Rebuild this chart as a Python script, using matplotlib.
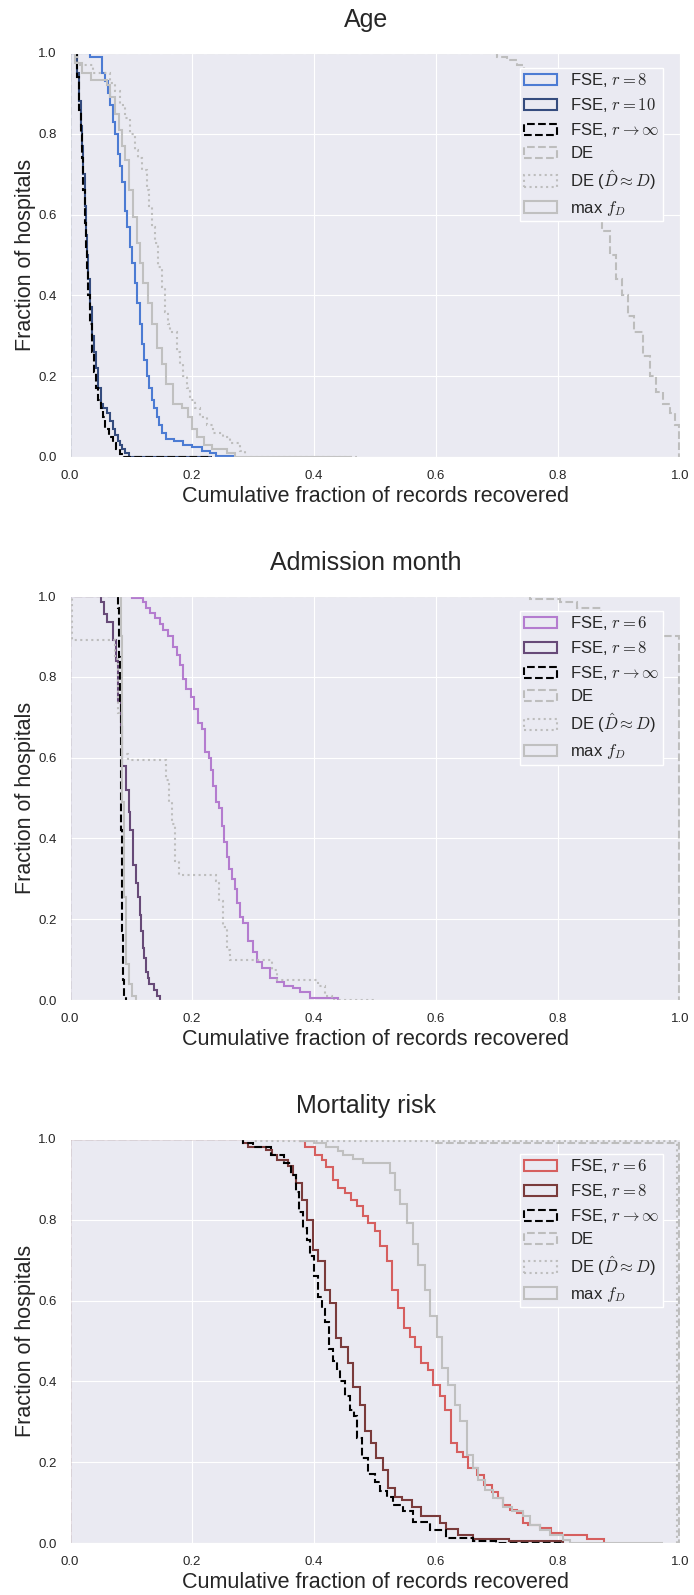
import matplotlib
matplotlib.use("Agg")
import matplotlib.pyplot as plt
from matplotlib.patches import Rectangle
import numpy as np
import seaborn as sns

# Each curve: X = right edge of each step, Y = level of that step (first step starts at 0)

# --- Age ---
age_fse8_x = [0.033, 0.052, 0.058, 0.062, 0.066, 0.070, 0.074, 0.078, 0.082, 0.086, 0.090, 0.094, 0.098, 0.102,
              0.106, 0.110, 0.114, 0.118, 0.122, 0.126, 0.130, 0.134, 0.138, 0.142, 0.146, 0.150, 0.158, 0.170,
              0.186, 0.200, 0.216, 0.230, 0.240, 0.268]
age_fse8_y = [1.0, 0.99, 0.95, 0.93, 0.90, 0.87, 0.83, 0.80, 0.75, 0.72, 0.68, 0.61, 0.57, 0.52, 0.48, 0.43, 0.38,
              0.33, 0.28, 0.24, 0.20, 0.17, 0.14, 0.12, 0.10, 0.08, 0.06, 0.045, 0.04, 0.03, 0.025, 0.015, 0.01, 0.003]
age_fse10_x = [0.012, 0.015, 0.018, 0.020, 0.022, 0.024, 0.026, 0.028, 0.030, 0.033, 0.036, 0.039, 0.042, 0.046,
               0.050, 0.054, 0.060, 0.066, 0.070, 0.074, 0.078, 0.082, 0.086, 0.090, 0.096, 0.232]
age_fse10_y = [1.0, 0.95, 0.88, 0.82, 0.77, 0.70, 0.62, 0.55, 0.50, 0.44, 0.37, 0.30, 0.26, 0.22, 0.17, 0.13, 0.12,
               0.11, 0.09, 0.07, 0.055, 0.04, 0.03, 0.02, 0.01, 0.0]
age_inf_x = [0.012, 0.015, 0.018, 0.020, 0.022, 0.024, 0.026, 0.028, 0.030, 0.033, 0.036, 0.039, 0.042, 0.046,
             0.050, 0.054, 0.058, 0.064, 0.070, 0.076, 0.082, 0.088, 0.232]
age_inf_y = [1.0, 0.94, 0.86, 0.80, 0.74, 0.66, 0.58, 0.52, 0.46, 0.40, 0.33, 0.26, 0.21, 0.17, 0.14, 0.12, 0.10,
             0.07, 0.05, 0.035, 0.02, 0.008, 0.0]
age_de_x = [0.700, 0.716, 0.733, 0.745, 0.760, 0.780, 0.800, 0.820, 0.840, 0.860, 0.872, 0.885, 0.895, 0.905,
            0.915, 0.925, 0.940, 0.950, 0.960, 0.972, 0.983, 0.992, 0.998]
age_de_y = [1.0, 0.99, 0.983, 0.97, 0.95, 0.92, 0.87, 0.82, 0.76, 0.70, 0.62, 0.56, 0.50, 0.44, 0.40, 0.35, 0.31,
            0.25, 0.20, 0.16, 0.13, 0.11, 0.08]
age_dehat_x = [0.012, 0.038, 0.065, 0.074, 0.082, 0.090, 0.098, 0.107, 0.112, 0.118, 0.126, 0.130, 0.134, 0.140,
               0.145, 0.150, 0.156, 0.160, 0.164, 0.175, 0.180, 0.186, 0.192, 0.197, 0.205, 0.213, 0.225, 0.235,
               0.250, 0.262, 0.279, 0.287, 0.470]
age_dehat_y = [1.0, 0.97, 0.95, 0.925, 0.905, 0.87, 0.84, 0.80, 0.76, 0.74, 0.71, 0.66, 0.62, 0.57, 0.53, 0.47,
               0.42, 0.36, 0.33, 0.31, 0.26, 0.23, 0.20, 0.17, 0.14, 0.12, 0.10, 0.08, 0.06, 0.05, 0.035, 0.015, 0.0]
age_max_x = [0.008, 0.019, 0.035, 0.060, 0.066, 0.074, 0.080, 0.085, 0.090, 0.096, 0.104, 0.109, 0.115, 0.120,
             0.128, 0.134, 0.142, 0.150, 0.158, 0.169, 0.183, 0.194, 0.200, 0.208, 0.219, 0.232, 0.257, 0.271, 0.462]
age_max_y = [1.0, 0.975, 0.95, 0.934, 0.92, 0.89, 0.85, 0.81, 0.77, 0.735, 0.66, 0.595, 0.53, 0.48, 0.43, 0.38,
             0.33, 0.27, 0.23, 0.18, 0.13, 0.12, 0.10, 0.07, 0.05, 0.03, 0.02, 0.01, 0.0]

# --- Admission month ---
adm_fse6_x = [0.101, 0.120, 0.125, 0.131, 0.139, 0.147, 0.153, 0.161, 0.168, 0.175, 0.180, 0.185, 0.190, 0.199,
              0.203, 0.209, 0.216, 0.221, 0.227, 0.231, 0.235, 0.240, 0.245, 0.249, 0.252, 0.257, 0.261, 0.266,
              0.270, 0.274, 0.279, 0.284, 0.292, 0.300, 0.306, 0.314, 0.328, 0.339, 0.350, 0.366, 0.377, 0.393, 0.440]
adm_fse6_y = [1.0, 0.995, 0.985, 0.97, 0.957, 0.945, 0.93, 0.915, 0.90, 0.875, 0.855, 0.83, 0.795, 0.77, 0.75,
              0.72, 0.685, 0.67, 0.615, 0.60, 0.57, 0.53, 0.49, 0.475, 0.43, 0.39, 0.355, 0.325, 0.30, 0.275, 0.24,
              0.205, 0.19, 0.145, 0.12, 0.095, 0.08, 0.055, 0.045, 0.035, 0.03, 0.02, 0.005]
adm_fse8_x = [0.050, 0.055, 0.060, 0.071, 0.075, 0.079, 0.083, 0.086, 0.092, 0.096, 0.099, 0.104, 0.108, 0.111,
              0.114, 0.117, 0.119, 0.122, 0.125, 0.128, 0.130, 0.137, 0.142, 0.148]
adm_fse8_y = [1.0, 0.985, 0.955, 0.935, 0.89, 0.84, 0.74, 0.675, 0.58, 0.52, 0.465, 0.42, 0.335, 0.29, 0.255,
              0.21, 0.17, 0.13, 0.105, 0.07, 0.055, 0.04, 0.025, 0.01]
adm_inf_x = [0.078, 0.080, 0.082, 0.083, 0.084, 0.085, 0.086, 0.087, 0.089, 0.092]
adm_inf_y = [1.0, 0.97, 0.85, 0.74, 0.58, 0.42, 0.28, 0.17, 0.05, 0.01]
adm_de_x = [0.754, 0.803, 0.831, 0.870, 0.920, 0.972, 0.998]
adm_de_y = [1.0, 0.993, 0.985, 0.97, 0.95, 0.92, 0.90]
adm_dehat_x = [0.003, 0.074, 0.079, 0.085, 0.095, 0.158, 0.163, 0.167, 0.172, 0.178, 0.240, 0.245, 0.251, 0.257,
               0.263, 0.331, 0.339, 0.407, 0.418, 0.429, 0.502]
adm_dehat_y = [1.0, 0.89, 0.845, 0.71, 0.61, 0.593, 0.545, 0.49, 0.435, 0.345, 0.31, 0.295, 0.245, 0.18, 0.125,
               0.10, 0.075, 0.05, 0.035, 0.01, 0.0]
adm_max_x = [0.084, 0.085, 0.086, 0.088, 0.092, 0.096, 0.101, 0.108]
adm_max_y = [1.0, 0.90, 0.72, 0.49, 0.255, 0.09, 0.04, 0.01]

# --- Mortality risk ---
mor_fse6_x = [0.377, 0.386, 0.402, 0.413, 0.420, 0.431, 0.440, 0.450, 0.461, 0.470, 0.481, 0.489, 0.500, 0.508,
              0.519, 0.527, 0.538, 0.547, 0.557, 0.565, 0.576, 0.587, 0.595, 0.606, 0.614, 0.625, 0.634, 0.645,
              0.653, 0.667, 0.678, 0.691, 0.702, 0.710, 0.721, 0.732, 0.743, 0.751, 0.770, 0.789, 0.806, 0.848, 0.875]
mor_fse6_y = [1.0, 0.995, 0.98, 0.96, 0.948, 0.931, 0.899, 0.878, 0.866, 0.85, 0.834, 0.809, 0.793, 0.772, 0.734,
              0.697, 0.626, 0.581, 0.532, 0.511, 0.486, 0.445, 0.429, 0.392, 0.363, 0.330, 0.247, 0.226, 0.214,
              0.185, 0.168, 0.144, 0.127, 0.111, 0.094, 0.082, 0.074, 0.049, 0.045, 0.037, 0.025, 0.021, 0.009]
mor_fse8_x = [0.284, 0.292, 0.322, 0.331, 0.339, 0.358, 0.366, 0.370, 0.380, 0.388, 0.399, 0.407, 0.418, 0.426,
              0.436, 0.445, 0.455, 0.464, 0.475, 0.483, 0.494, 0.502, 0.513, 0.522, 0.533, 0.544, 0.560, 0.576,
              0.606, 0.617, 0.636, 0.661, 0.720, 0.808]
mor_fse8_y = [1.0, 0.99, 0.981, 0.973, 0.96, 0.948, 0.932, 0.91, 0.89, 0.849, 0.80, 0.725, 0.697, 0.626, 0.593,
              0.507, 0.486, 0.445, 0.387, 0.342, 0.276, 0.247, 0.21, 0.18, 0.135, 0.115, 0.107, 0.09, 0.066, 0.05,
              0.035, 0.02, 0.01, 0.004]
mor_inf_x = [0.284, 0.300, 0.330, 0.350, 0.362, 0.370, 0.376, 0.382, 0.388, 0.394, 0.400, 0.406, 0.413, 0.418,
             0.424, 0.431, 0.437, 0.442, 0.450, 0.459, 0.466, 0.470, 0.478, 0.489, 0.500, 0.508, 0.519, 0.530,
             0.546, 0.563, 0.590, 0.617, 0.661, 0.699, 0.808]
mor_inf_y = [1.0, 0.99, 0.98, 0.96, 0.94, 0.91, 0.87, 0.82, 0.78, 0.75, 0.71, 0.66, 0.61, 0.58, 0.546, 0.48, 0.45,
             0.43, 0.40, 0.364, 0.33, 0.315, 0.26, 0.21, 0.17, 0.152, 0.128, 0.115, 0.094, 0.078, 0.053, 0.033,
             0.012, 0.006, 0.0]
mor_de_x = [0.600, 0.998]
mor_de_y = [1.0, 0.99]
mor_dehat_x = [0.300, 0.995]
mor_dehat_y = [1.0, 0.995]
mor_max_x = [0.38, 0.40, 0.42, 0.44, 0.448, 0.464, 0.481, 0.525, 0.533, 0.541, 0.552, 0.562, 0.571, 0.582, 0.590,
             0.601, 0.609, 0.620, 0.631, 0.639, 0.650, 0.661, 0.669, 0.680, 0.694, 0.710, 0.724, 0.743, 0.754,
             0.770, 0.787, 0.808, 0.820, 0.972]
mor_max_y = [1.0, 0.995, 0.99, 0.98, 0.97, 0.96, 0.95, 0.94, 0.917, 0.874, 0.84, 0.793, 0.74, 0.689, 0.626, 0.561,
             0.511, 0.433, 0.392, 0.342, 0.301, 0.218, 0.185, 0.156, 0.132, 0.111, 0.090, 0.078, 0.066, 0.045,
             0.033, 0.02, 0.008, 0.0]

titles = ["Age", "Admission month", "Mortality risk"]
r_labels = [("8", "10"), ("6", "8"), ("6", "8")]
light_colors = ["#4C7BD3", "#B47CCF", "#D65F5F"]
dark_colors = ["#354C7E", "#674A78", "#7A3B3B"]

panels = [
    [(age_fse8_x, age_fse8_y), (age_fse10_x, age_fse10_y), (age_inf_x, age_inf_y),
     (age_de_x, age_de_y), (age_dehat_x, age_dehat_y), (age_max_x, age_max_y)],
    [(adm_fse6_x, adm_fse6_y), (adm_fse8_x, adm_fse8_y), (adm_inf_x, adm_inf_y),
     (adm_de_x, adm_de_y), (adm_dehat_x, adm_dehat_y), (adm_max_x, adm_max_y)],
    [(mor_fse6_x, mor_fse6_y), (mor_fse8_x, mor_fse8_y), (mor_inf_x, mor_inf_y),
     (mor_de_x, mor_de_y), (mor_dehat_x, mor_dehat_y), (mor_max_x, mor_max_y)],
]

sns.set_style("darkgrid")
plt.rcParams['font.family'] = ['Liberation Sans', 'DejaVu Sans']
plt.rcParams['mathtext.fontset'] = 'cm'

fig = plt.figure(figsize=(6.94, 15.95), dpi=100)
bottoms = [0.7135, 0.3730, 0.0326]

for i in range(3):
    ax = fig.add_axes([0.1009, bottoms[i], 0.879, 0.2533])
    lo, hi = r_labels[i]
    styles = [
        dict(color=light_colors[i], ls='-', label=r'FSE, $r=%s$' % lo),
        dict(color=dark_colors[i], ls='-', label=r'FSE, $r=%s$' % hi),
        dict(color='black', ls='--', label=r'FSE, $r\rightarrow\infty$'),
        dict(color='#BDBDBD', ls='--', label='DE'),
        dict(color='#BDBDBD', ls=':', label=r'DE ($\hat{D}\approx D$)'),
        dict(color='#C0C0C0', ls='-', label=r'max $f_D$'),
    ]
    handles = []
    for (xs, ys), st in zip(panels[i], styles):
        edges = np.r_[0.0, xs]
        ax.stairs(ys, edges, baseline=0, fill=False, lw=1.5, color=st['color'], ls=st['ls'])
        # histogram-style legend entry (outlined box)
        handles.append(Rectangle((0, 0), 1, 1, fill=False, edgecolor=st['color'],
                                 ls=st['ls'], lw=1.5, label=st['label']))

    ax.set_xlim(0, 1)
    ax.set_ylim(0, 1)
    ax.set_xticks(np.arange(0, 1.01, 0.2))
    ax.set_yticks(np.arange(0, 1.01, 0.2))
    ax.tick_params(labelsize=9.5, pad=6)
    ax.set_title(titles[i], fontsize=18, pad=18.5, x=0.485)
    ax.set_xlabel("Cumulative fraction of records recovered", fontsize=15.5, labelpad=3)
    ax.set_ylabel("Fraction of hospitals", fontsize=15.5, labelpad=2)
    leg = ax.legend(handles=handles, loc='upper right', bbox_to_anchor=(0.972, 0.963), borderaxespad=0,
                    fontsize=12, frameon=True, fancybox=False, facecolor='#EAEAF2',
                    edgecolor='white', framealpha=1, handlelength=2.0, labelspacing=0.42,
                    borderpad=0.2)
    leg.get_frame().set_linewidth(1.0)

fig.savefig("out.png", dpi=100)
